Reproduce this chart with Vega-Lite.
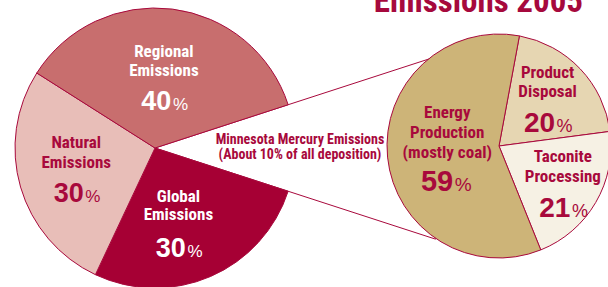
{
  "$schema": "https://vega.github.io/schema/vega-lite/v6.json",
  "width": 608,
  "height": 287,
  "padding": 0,
  "autosize": "none",
  "background": "white",
  "view": {"stroke": null},
  "config": {"text": {"font": "Liberation Sans Narrow, Noto Sans Condensed, Roboto Condensed, Open Sans Condensed, DejaVu Sans Condensed, sans-serif"}},
  "title": {"text": "Emissions 2005", "anchor": "end", "frame": "group", "orient": "top", "offset": -55.5, "dx": -25, "baseline": "alphabetic", "font": "Liberation Sans Narrow, Noto Sans Condensed, Roboto Condensed, Open Sans Condensed, DejaVu Sans Condensed, sans-serif", "fontSize": 33, "fontWeight": "bold", "color": "#a6093d"},
  "datasets": {
    "left": [
      {"pie": "all", "key": "mn", "idx": 0, "share": 10, "caption": "Minnesota Mercury Emissions\n(About 10% of all deposition)"},
      {"pie": "all", "key": "global", "idx": 1, "share": 27, "name": "Global\nEmissions", "pct": 30},
      {"pie": "all", "key": "natural", "idx": 2, "share": 27, "name": "Natural\nEmissions", "pct": 30},
      {"pie": "all", "key": "regional", "idx": 3, "share": 36, "name": "Regional\nEmissions", "pct": 40}
    ],
    "right": [
      {"pie": "mn", "key": "product", "idx": 0, "name": "Product\nDisposal", "pct": 20},
      {"pie": "mn", "key": "taconite", "idx": 1, "name": "Taconite\nProcessing", "pct": 21},
      {"pie": "mn", "key": "energy", "idx": 2, "name": "Energy\nProduction\n(mostly coal)", "pct": 59}
    ]
  },
  "encoding": {
    "x": {"field": "pie", "type": "nominal", "scale": {"domain": ["all", "mn"], "range": [155, 499], "padding": 0}, "axis": null},
    "y": {"field": "pie", "type": "nominal", "scale": {"domain": ["all", "mn"], "range": [148, 146], "padding": 0}, "axis": null}
  },
  "resolve": {"scale": {"theta": "independent"}},
  "layer": [
    {
      "data": {"name": "left"},
      "encoding": {
        "theta": {"field": "share", "type": "quantitative", "stack": true, "scale": {"domain": [0, 100], "range": [1.2566, 7.5398]}},
        "order": {"field": "idx", "type": "quantitative"},
        "detail": {"field": "key", "type": "nominal"}
      },
      "layer": [
        {
          "transform": [
            {"stack": "share", "groupby": [], "sort": [{"field": "idx"}], "as": ["t0", "t1"]},
            {"filter": "datum.key === 'mn'"}
          ],
          "mark": {"type": "arc", "radius": 295, "fill": "#ffffff", "stroke": "#a8093c", "strokeWidth": 1},
          "encoding": {
            "theta": {"field": "t0", "type": "quantitative"},
            "theta2": {"field": "t1"},
            "order": null,
            "detail": null
          }
        },
        {
          "mark": {"type": "arc", "radius": 140, "stroke": "#a8093c", "strokeWidth": 1},
          "encoding": {
            "color": {"field": "key", "type": "nominal", "legend": null, "scale": {"domain": ["mn", "global", "natural", "regional", "product", "taconite", "energy"], "range": ["#ffffff", "#a60034", "#e8beb8", "#c86e6e", "#e6d6b2", "#f6f1e4", "#cdb478"]}},
            "opacity": {"condition": {"test": "datum.key === 'mn'", "value": 0}, "value": 1}
          }
        },
        {
          "mark": {"type": "text", "radius": 145, "dy": -7.5, "fontSize": 14, "fontWeight": "bold", "lineBreak": "\n", "lineHeight": 15, "baseline": "middle", "align": "center", "fill": "#a8093c"},
          "encoding": {
            "text": {"field": "caption", "type": "nominal"},
            "opacity": {"condition": {"test": "datum.key === 'mn'", "value": 1}, "value": 0}
          }
        },
        {
          "mark": {"type": "text", "radius": 71, "dy": -25.5, "fontSize": 17, "fontWeight": "bold", "lineBreak": "\n", "lineHeight": 19, "baseline": "middle", "align": "center", "fill": "white"},
          "encoding": {"text": {"field": "name", "type": "nominal"}, "opacity": {"condition": {"test": "datum.key === 'regional'", "value": 1}, "value": 0}}
        },
        {
          "mark": {"type": "text", "radius": 71, "dy": 32.2, "dx": 7.5, "font": "Liberation Sans, Arial, sans-serif", "fontSize": 27, "fontWeight": "bold", "baseline": "alphabetic", "align": "right", "fill": "white"},
          "encoding": {"text": {"field": "pct", "type": "quantitative"}, "opacity": {"condition": {"test": "datum.key === 'regional'", "value": 1}, "value": 0}}
        },
        {
          "mark": {"type": "text", "radius": 71, "dy": 32.2, "dx": 9, "font": "Liberation Sans, Arial, sans-serif", "fontSize": 17, "baseline": "alphabetic", "align": "left", "fill": "white", "text": "%"},
          "encoding": {"opacity": {"condition": {"test": "datum.key === 'regional'", "value": 1}, "value": 0}}
        },
        {
          "mark": {"type": "text", "radius": 82, "dy": -27.6, "fontSize": 17, "fontWeight": "bold", "lineBreak": "\n", "lineHeight": 20, "baseline": "middle", "align": "center", "fill": "#a8093c"},
          "encoding": {"text": {"field": "name", "type": "nominal"}, "opacity": {"condition": {"test": "datum.key === 'natural'", "value": 1}, "value": 0}}
        },
        {
          "mark": {"type": "text", "radius": 82, "dy": 31, "dx": 7.5, "font": "Liberation Sans, Arial, sans-serif", "fontSize": 27, "fontWeight": "bold", "baseline": "alphabetic", "align": "right", "fill": "#a8093c"},
          "encoding": {"text": {"field": "pct", "type": "quantitative"}, "opacity": {"condition": {"test": "datum.key === 'natural'", "value": 1}, "value": 0}}
        },
        {
          "mark": {"type": "text", "radius": 82, "dy": 31, "dx": 9, "font": "Liberation Sans, Arial, sans-serif", "fontSize": 17, "baseline": "alphabetic", "align": "left", "fill": "#a8093c", "text": "%"},
          "encoding": {"opacity": {"condition": {"test": "datum.key === 'natural'", "value": 1}, "value": 0}}
        },
        {
          "mark": {"type": "text", "radius": 79, "dx": -8, "dy": -23.3, "fontSize": 17, "fontWeight": "bold", "lineBreak": "\n", "lineHeight": 18, "baseline": "middle", "align": "center", "fill": "white"},
          "encoding": {"text": {"field": "name", "type": "nominal"}, "opacity": {"condition": {"test": "datum.key === 'global'", "value": 1}, "value": 0}}
        },
        {
          "mark": {"type": "text", "radius": 79, "dy": 36.5, "dx": -0.5, "font": "Liberation Sans, Arial, sans-serif", "fontSize": 27, "fontWeight": "bold", "baseline": "alphabetic", "align": "right", "fill": "white"},
          "encoding": {"text": {"field": "pct", "type": "quantitative"}, "opacity": {"condition": {"test": "datum.key === 'global'", "value": 1}, "value": 0}}
        },
        {
          "mark": {"type": "text", "radius": 79, "dy": 36.5, "dx": 1, "font": "Liberation Sans, Arial, sans-serif", "fontSize": 17, "baseline": "alphabetic", "align": "left", "fill": "white", "text": "%"},
          "encoding": {"opacity": {"condition": {"test": "datum.key === 'global'", "value": 1}, "value": 0}}
        }
      ]
    },
    {
      "data": {"name": "right"},
      "encoding": {
        "theta": {"field": "pct", "type": "quantitative", "stack": true, "scale": {"range": [0.1833, 6.4665]}},
        "order": {"field": "idx", "type": "quantitative"},
        "detail": {"field": "key", "type": "nominal"}
      },
      "layer": [
        {
          "mark": {"type": "arc", "radius": 112, "stroke": "#a8093c", "strokeWidth": 1},
          "encoding": {"color": {"field": "key", "type": "nominal", "legend": null}}
        },
        {
          "mark": {"type": "text", "radius": 52, "dy": -38, "fontSize": 17, "fontWeight": "bold", "lineBreak": "\n", "lineHeight": 20, "baseline": "middle", "align": "center", "fill": "#a8093c"},
          "encoding": {"text": {"field": "name", "type": "nominal"}, "opacity": {"condition": {"test": "datum.key === 'energy'", "value": 1}, "value": 0}}
        },
        {
          "mark": {"type": "text", "radius": 52, "dy": 40, "dx": 6, "font": "Liberation Sans, Arial, sans-serif", "fontSize": 29, "fontWeight": "bold", "baseline": "alphabetic", "align": "right", "fill": "#a8093c"},
          "encoding": {"text": {"field": "pct", "type": "quantitative"}, "opacity": {"condition": {"test": "datum.key === 'energy'", "value": 1}, "value": 0}}
        },
        {
          "mark": {"type": "text", "radius": 52, "dy": 40, "dx": 7.5, "font": "Liberation Sans, Arial, sans-serif", "fontSize": 19, "baseline": "alphabetic", "align": "left", "fill": "#a8093c", "text": "%"},
          "encoding": {"opacity": {"condition": {"test": "datum.key === 'energy'", "value": 1}, "value": 0}}
        },
        {
          "mark": {"type": "text", "radius": 67, "dy": -27, "fontSize": 17, "fontWeight": "bold", "lineBreak": "\n", "lineHeight": 19, "baseline": "middle", "align": "center", "fill": "#a8093c"},
          "encoding": {"text": {"field": "name", "type": "nominal"}, "opacity": {"condition": {"test": "datum.key === 'product'", "value": 1}, "value": 0}}
        },
        {
          "mark": {"type": "text", "radius": 67, "dy": 32.4, "dx": 7.5, "font": "Liberation Sans, Arial, sans-serif", "fontSize": 28, "fontWeight": "bold", "baseline": "alphabetic", "align": "right", "fill": "#a8093c"},
          "encoding": {"text": {"field": "pct", "type": "quantitative"}, "opacity": {"condition": {"test": "datum.key === 'product'", "value": 1}, "value": 0}}
        },
        {
          "mark": {"type": "text", "radius": 67, "dy": 32.4, "dx": 9, "font": "Liberation Sans, Arial, sans-serif", "fontSize": 18, "baseline": "alphabetic", "align": "left", "fill": "#a8093c", "text": "%"},
          "encoding": {"opacity": {"condition": {"test": "datum.key === 'product'", "value": 1}, "value": 0}}
        },
        {
          "mark": {"type": "text", "radius": 74, "dy": -26.3, "fontSize": 17, "fontWeight": "bold", "lineBreak": "\n", "lineHeight": 20, "baseline": "middle", "align": "center", "fill": "#a8093c"},
          "encoding": {"text": {"field": "name", "type": "nominal"}, "opacity": {"condition": {"test": "datum.key === 'taconite'", "value": 1}, "value": 0}}
        },
        {
          "mark": {"type": "text", "radius": 74, "dy": 33.7, "dx": 7.5, "font": "Liberation Sans, Arial, sans-serif", "fontSize": 28, "fontWeight": "bold", "baseline": "alphabetic", "align": "right", "fill": "#a8093c"},
          "encoding": {"text": {"field": "pct", "type": "quantitative"}, "opacity": {"condition": {"test": "datum.key === 'taconite'", "value": 1}, "value": 0}}
        },
        {
          "mark": {"type": "text", "radius": 74, "dy": 33.7, "dx": 9, "font": "Liberation Sans, Arial, sans-serif", "fontSize": 18, "baseline": "alphabetic", "align": "left", "fill": "#a8093c", "text": "%"},
          "encoding": {"opacity": {"condition": {"test": "datum.key === 'taconite'", "value": 1}, "value": 0}}
        }
      ]
    }
  ]
}
